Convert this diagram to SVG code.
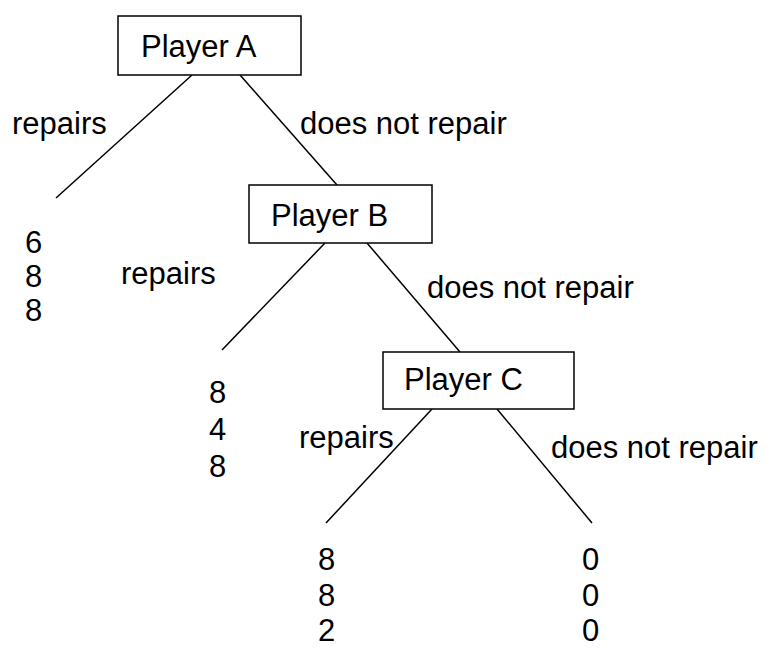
<svg xmlns="http://www.w3.org/2000/svg" width="767" height="648" viewBox="0 0 767 648">
<style>
text{font-family:"Liberation Sans",Arial,sans-serif;font-size:31px;fill:#000}
.box{fill:#fff;stroke:#000;stroke-width:1.5}
.edge{stroke:#000;stroke-width:1.5;fill:none}
</style>
<rect width="767" height="648" fill="#fff"/>
<g id="connectors">
<line class="edge" x1="192" y1="75" x2="56" y2="198"/>
<line class="edge" x1="240" y1="75" x2="337" y2="185"/>
<line class="edge" x1="325" y1="243" x2="222" y2="350"/>
<line class="edge" x1="367" y1="243" x2="460" y2="352"/>
<line class="edge" x1="432" y1="409" x2="326" y2="523"/>
<line class="edge" x1="497" y1="409" x2="592" y2="523"/>
</g>
<g id="playerA"><rect class="box" x="118" y="16" width="183" height="59"/><text x="141" y="57">Player A</text></g>
<g id="playerB"><rect class="box" x="249" y="185" width="183" height="58"/><text x="271" y="226">Player B</text></g>
<g id="playerC"><rect class="box" x="383" y="352" width="191" height="57"/><text x="404" y="390">Player C</text></g>
<g id="labels">
<text x="12" y="134">repairs</text>
<text x="300" y="134">does not repair</text>
<text x="121" y="284">repairs</text>
<text x="427" y="298">does not repair</text>
<text x="299" y="448">repairs</text>
<text x="551" y="458">does not repair</text>
</g>
<g id="payoffs">
<text x="25" y="253">6</text><text x="25" y="287">8</text><text x="25" y="321">8</text>
<text x="209" y="403">8</text><text x="209" y="440">4</text><text x="209" y="477">8</text>
<text x="318" y="570">8</text><text x="318" y="606">8</text><text x="318" y="641">2</text>
<text x="582" y="570">0</text><text x="582" y="606">0</text><text x="582" y="641">0</text>
</g>
</svg>
